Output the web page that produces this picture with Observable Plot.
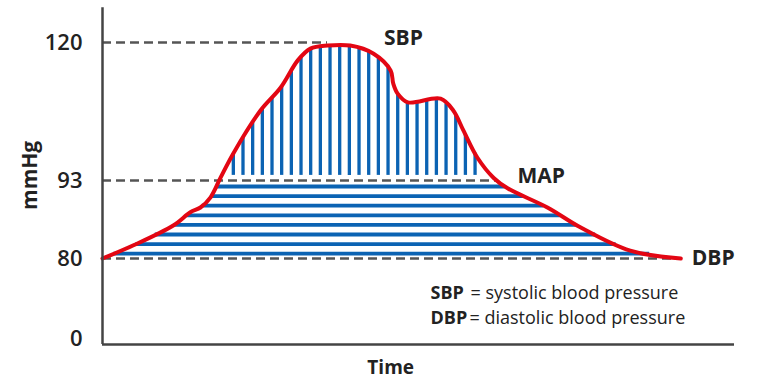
<!DOCTYPE html>
<html><head><meta charset="utf-8">
<script src="https://cdn.jsdelivr.net/npm/d3@7"></script>
<script src="https://cdn.jsdelivr.net/npm/@observablehq/plot@0.6"></script>
<style>body{margin:0;background:#fff} svg{display:block}</style>
</head><body><div id="chart"></div>
<script>
// Time (arbitrary units) and arterial pressure (mmHg)
const time = [0,49,112,139,155,171,187,207,250,282,309,329,356,392,429,456,460,467,483,535,555,571,593,619,641,704,756,835,915];
const pressure = [80,82.2,85.5,87.7,88.5,90.2,93.6,98.3,106.7,111.2,116.5,118.8,119.4,119.4,117.8,114.5,112.0,110.0,108.3,109.0,106.7,102.8,97.5,93.5,91.7,88.5,85.2,81.3,80];
const yTicks = [0, 80, 93, 120];
const refNames = ["SBP", "MAP", "DBP"];
const refValues = [120, 93, 80];
const legendKeys = ["SBP", "DBP"];
const legendTexts = ["= systolic blood pressure", "= diastolic blood pressure"];
const hatchLevels = [80.8, 82.4, 84.0, 85.6, 87.2, 88.8, 90.4, 92.0];
const hatchTimes = d3.range(207, 600, 15.3);

const BLUE = "#0b63b3", RED = "#e30613", INK = "#222", AXIS = "#444";

// the picture's vertical axis is stretched differently between the ticks
const warp = d3.scaleLinear().domain([0, 80, 93, 120]).range([0, 80, 158, 296]);

function valueAt(t) {
  const i = d3.bisectRight(time, t);
  if (i <= 0) return pressure[0];
  if (i >= time.length) return pressure[pressure.length - 1];
  const t0 = time[i - 1], t1 = time[i];
  return pressure[i - 1] + (pressure[i] - pressure[i - 1]) * (t - t0) / (t1 - t0);
}
function crossings(v) {
  let left = null, right = null;
  for (let i = 1; i < time.length; i++) {
    const a = pressure[i - 1], b = pressure[i];
    if (left === null && a <= v && b > v) left = time[i - 1] + (v - a) / (b - a) * (time[i] - time[i - 1]);
    if (a > v && b <= v) right = time[i - 1] + (a - v) / (a - b) * (time[i] - time[i - 1]);
  }
  return [left ?? time[0], right ?? time[time.length - 1]];
}

const curve = time.map((t, i) => ({t, p: pressure[i]}));
const hLines = hatchLevels.map(v => { const [l, r] = crossings(v); return {v, l, r}; });
const vBottom = 94;
const vLines = hatchTimes.map(t => ({t, top: valueAt(t)})).filter(d => d.top > vBottom + 0.5);
const peakT = time[pressure.indexOf(d3.max(pressure))];
const refs = refNames.map((name, i) => {
  const v = refValues[i];
  let end;
  if (name === "SBP") end = peakT;
  else if (name === "MAP") end = crossings(v)[1];
  else end = time[time.length - 1];
  return {name, value: v, end};
});
const legend = legendKeys.map((k, i) => ({k, txt: legendTexts[i], row: i}));
const lbl = n => refs.filter(d => d.name === n);

const chart = Plot.plot({
  width: 768, height: 384,
  marginLeft: 102, marginRight: 34, marginTop: 6, marginBottom: 40,
  style: {fontFamily: "'Open Sans', 'Noto Sans', sans-serif", background: "#fff", color: INK},
  x: {domain: [0, 1000], range: [102, 734], axis: null},
  y: {transform: warp, domain: [-6, 332], range: [344, 6], axis: null},
  marks: [
    Plot.ruleY(refs, {y: "value", x1: 0, x2: "end", stroke: "#555", strokeWidth: 2.5, strokeDasharray: "9,5"}),
    Plot.ruleY(hLines, {y: "v", x1: "l", x2: "r", stroke: BLUE, strokeWidth: 3.8}),
    Plot.ruleX(vLines, {x: "t", y1: vBottom, y2: "top", stroke: BLUE, strokeWidth: 3.3}),
    Plot.line(curve, {x: "t", y: "p", stroke: RED, strokeWidth: 4, curve: "catmull-rom", strokeLinecap: "round", strokeLinejoin: "round"}),
    Plot.ruleX([0], {y1: -6, y2: 126.8, stroke: AXIS, strokeWidth: 2.5}),
    Plot.ruleY([-6], {x1: 0, x2: 1000, stroke: AXIS, strokeWidth: 2.5}),
    Plot.axisY(yTicks, {tickSize: 0, tickPadding: 20, fontSize: 22, fontWeight: 600, fill: INK, label: null, tickFormat: d => d}),
    Plot.text(lbl("SBP"), {x: "end", y: "value", text: "name", fontSize: 21, fontWeight: 700, fill: INK, textAnchor: "middle", dx: 76, dy: -4}),
    Plot.text(lbl("MAP"), {x: "end", y: "value", text: "name", fontSize: 21, fontWeight: 700, fill: INK, textAnchor: "start", dx: 20, dy: -4}),
    Plot.text(lbl("DBP"), {x: "end", y: "value", text: "name", fontSize: 21, fontWeight: 700, fill: INK, textAnchor: "start", dx: 11, dy: 0}),
    Plot.text(legend, {x: 519, y: d => 45 - d.row * 25, text: "k", textAnchor: "start", fontSize: 18, fontWeight: 700, fill: INK}),
    Plot.text(legend.filter(d => d.row === 0), {x: 519, y: d => 45 - d.row * 25, text: "txt", textAnchor: "start", fontSize: 18, fill: INK, dx: 40}),
    Plot.text(legend.filter(d => d.row === 1), {x: 519, y: d => 45 - d.row * 25, text: "txt", textAnchor: "start", fontSize: 18, fill: INK, dx: 39}),
    Plot.text(["Time"], {x: 456, y: -29, text: d => d, fontSize: 19, fontWeight: 700, fill: INK}),
    Plot.text(["mmHg"], {x: -114, y: 94, text: d => d, fontSize: 21, fontWeight: 700, fill: INK, rotate: -90})
  ]
});
document.getElementById("chart").appendChild(chart);
</script>
</body></html>
